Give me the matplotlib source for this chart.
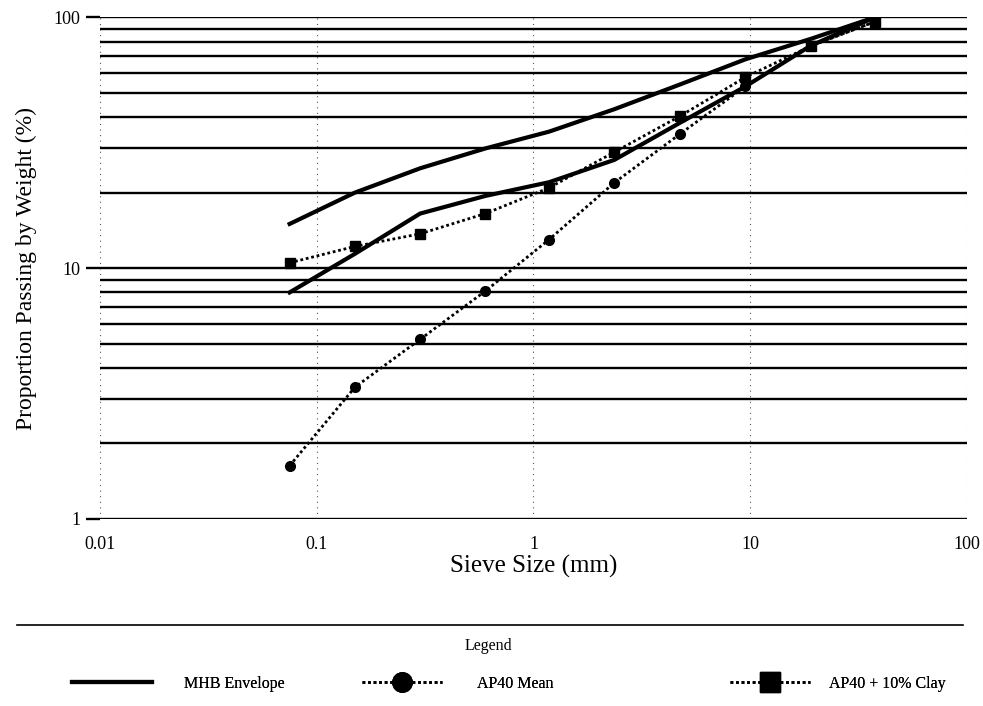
import numpy as np
import matplotlib.pyplot as plt
from matplotlib.lines import Line2D
from matplotlib.ticker import FixedLocator, NullFormatter

plt.rcParams['font.family'] = ['Liberation Serif', 'DejaVu Serif']

# sieve sizes (mm)
sieve = [0.075, 0.15, 0.3, 0.6, 1.18, 2.36, 4.75, 9.5, 19, 37.5]

# MHB envelope (upper / lower limits), % passing
mhb_upper = [15, 20, 25, 30, 35, 43, 54, 68, 82, 100]
mhb_lower = [8, 11.4, 16.5, 19.4, 22, 27, 38, 53, 77, 100]

# AP40 mean gradation
ap40_mean = [1.63, 3.35, 5.2, 8.1, 13, 21.9, 34.3, 53, 77, 96]

# AP40 + 10% clay
ap40_clay = [10.5, 12.2, 13.7, 16.5, 20.9, 29, 40.4, 57.7, 76.7, 96]

x_ticks = [0.01, 0.1, 1, 10, 100]
x_labels = ["0.01", "0.1", "1", "10", "100"]
y_ticks = [1, 10, 100]
y_labels = ["1", "10", "100"]

fig = plt.figure(figsize=(9.83, 7.06), dpi=100)
ax = fig.add_axes([0.1017, 0.265, 0.882, 0.7105])

ax.set_xscale("log")
ax.set_yscale("log")
ax.set_xlim(0.01, 100)
ax.set_ylim(1, 100)

# horizontal grid at every integer step, vertical dotted at decades
minor_y = [v * d for d in (1, 10) for v in range(2, 10)]
ax.yaxis.set_minor_locator(FixedLocator(minor_y))
ax.yaxis.set_minor_formatter(NullFormatter())
ax.xaxis.set_minor_locator(FixedLocator([]))
ax.set_xticks(x_ticks)
ax.set_xticklabels(x_labels)
ax.set_yticks(y_ticks)
ax.set_yticklabels(y_labels)

ax.grid(True, which="both", axis="y", color="black", linestyle="-", linewidth=1.7)
ax.grid(True, which="major", axis="x", color="#555555", linestyle=(0, (1, 4)), linewidth=0.8)

for s in ax.spines.values():
	s.set_visible(False)
ax.tick_params(axis="y", which="major", length=10, width=1.7, color="black", labelsize=13, pad=4)
ax.tick_params(axis="y", which="minor", length=0)
ax.tick_params(axis="x", which="major", length=0, labelsize=13, pad=12)

ax.plot(sieve, mhb_upper, color="black", linewidth=3, label="MHB Envelope")
ax.plot(sieve, mhb_lower, color="black", linewidth=3, label="_nolegend_")
ax.plot(sieve, ap40_mean, color="black", linewidth=2, linestyle=(0, (1, 1)),
	marker="o", markersize=7, label="AP40 Mean")
ax.plot(sieve, ap40_clay, color="black", linewidth=2, linestyle=(0, (1, 1)),
	marker="s", markersize=7, label="AP40 + 10% Clay")

ax.set_xlabel("Sieve Size (mm)", fontsize=18, labelpad=2)
ax.set_ylabel("Proportion Passing by Weight (%)", fontsize=17, labelpad=12)

# legend box below
fig.add_artist(Line2D([0.017, 0.98], [1 - 625 / 706, 1 - 625 / 706], color="black", linewidth=1.2))
fig.text(0.497, 1 - 646 / 706, "Legend", ha="center", va="center", fontsize=11.5)

entries = [
	(Line2D([], [], color="black", linewidth=3), "MHB Envelope", 72, 2.0),
	(Line2D([], [], color="black", linewidth=2, linestyle=(0, (1, 1)), marker="o", markersize=14), "AP40 Mean", 362, 2.2),
	(Line2D([], [], color="black", linewidth=2, linestyle=(0, (1, 1)), marker="s", markersize=14), "AP40 + 10% Clay", 730, 1.2),
]
for handle, text, x0, pad in entries:
	leg = fig.legend([handle], [text], loc="center left",
		bbox_to_anchor=(x0 / 983, 1 - 684 / 706), frameon=False, fontsize=11.5,
		handlelength=5, handletextpad=pad, borderaxespad=0, borderpad=0)
	fig.add_artist(leg)

fig.savefig("out.png", dpi=100)
